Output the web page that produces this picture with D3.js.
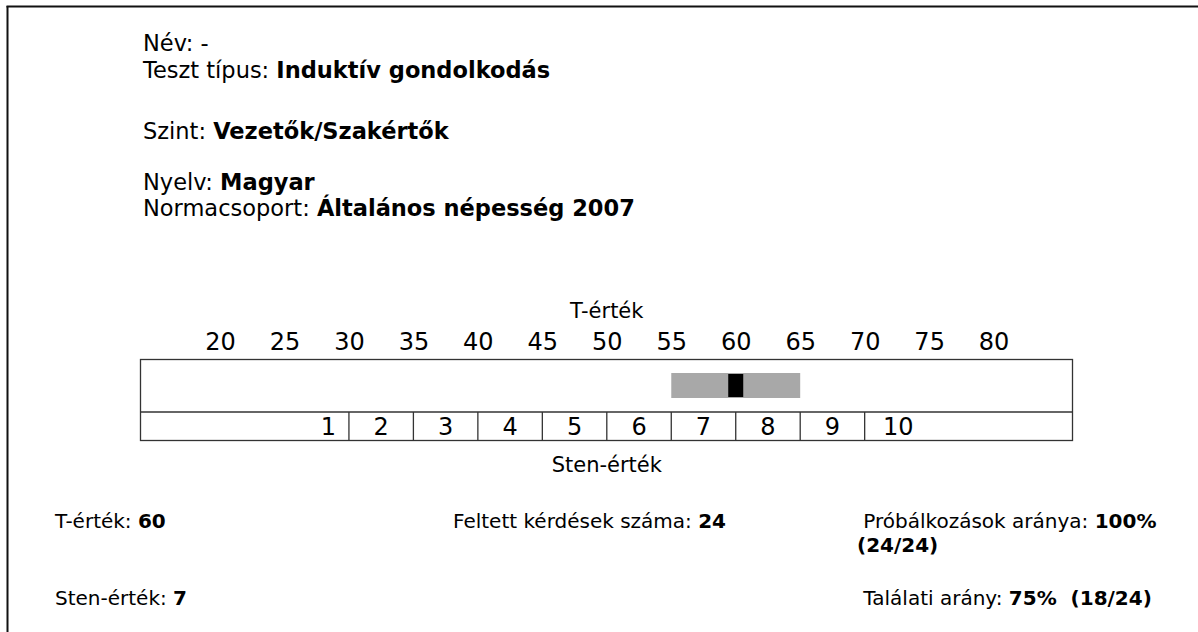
<!DOCTYPE html>
<html><head><meta charset="utf-8">
<script src="https://cdn.jsdelivr.net/npm/d3@7"></script>
<style>html,body{margin:0;padding:0;background:#fff;}svg{display:block;font-family:"DejaVu Sans",Verdana,sans-serif;}</style>
</head><body>
<script>
// ---- data ----
const tTicks = [20,25,30,35,40,45,50,55,60,65,70,75,80];
const stenBounds = [30,35,40,45,50,55,60,65,70];
const stenLabels = ["1","2","3","4","5","6","7","8","9","10"];
const stenLabelT = [28.4,32.5,37.5,42.5,47.5,52.5,57.5,62.5,67.5,72.6];
const tScore = 60;
const tBand = [55,65];
const headerLines = [
  {label:"Név: ", value:"-", bold:false},
  {label:"Teszt típus: ", value:"Induktív gondolkodás", bold:true},
  {label:"Szint: ", value:"Vezetők/Szakértők", bold:true},
  {label:"Nyelv: ", value:"Magyar", bold:true},
  {label:"Normacsoport: ", value:"Általános népesség 2007", bold:true}
];
const headerBaselines = [51,77.5,139,189.5,216];
const footerItems = [
  {label:"T-érték: ", value:"60", x:55, y:528},
  {label:"Sten-érték: ", value:"7", x:55, y:605},
  {label:"Feltett kérdések száma: ", value:"24", x:453, y:528},
  {label:" Próbálkozások aránya: ", value:"100%", x:857, y:528},
  {label:"", value:"(24/24)", x:857, y:552},
  {label:" Találati arány: ", value:"75%  (18/24)", x:857, y:605}
];

const W = 1198, H = 632;
const svg = d3.select("body").append("svg").attr("width",W).attr("height",H);

// page frame (top and left)
svg.append("line").attr("x1",6.5).attr("x2",W).attr("y1",6.5).attr("y2",6.5).attr("stroke","#111").attr("stroke-width",2);
svg.append("line").attr("x1",7.5).attr("x2",7.5).attr("y1",6).attr("y2",H).attr("stroke","#111").attr("stroke-width",2);

// header
headerLines.forEach((d,i)=>{
  const t = svg.append("text").attr("x",143).attr("y",headerBaselines[i]).attr("font-size",22.5).attr("fill","#000").attr("xml:space","preserve");
  t.append("tspan").text(d.label);
  t.append("tspan").attr("font-weight",d.bold?"bold":"normal").text(d.value);
});

// scale
const x = d3.scaleLinear().domain([20,80]).range([220,993.6]);
const boxL = 140.5, boxR = 1072.5, boxT = 359.5, boxM = 412, boxB = 440.5;

svg.append("text").attr("x",x(50)).attr("y",318).attr("text-anchor","middle").attr("font-size",21).text("T-érték");

const axis = d3.axisTop(x).tickValues(tTicks).tickSize(0).tickPadding(0).tickFormat(d3.format("d"));
const ag = svg.append("g").attr("transform",`translate(0,${350})`).call(axis);
ag.select(".domain").remove();
ag.selectAll("text").attr("font-size",24).attr("font-family","DejaVu Sans, Verdana, sans-serif").attr("fill","#000").attr("dy",0);

// band + marker
svg.append("rect").attr("x",x(tBand[0])).attr("width",x(tBand[1])-x(tBand[0])).attr("y",373).attr("height",25).attr("fill","#a8a8a8");
svg.append("rect").attr("x",x(tScore)-7.5).attr("width",15).attr("y",374).attr("height",23).attr("fill","#000");

// box
const lineCol = "#333";
svg.append("rect").attr("x",boxL).attr("y",boxT).attr("width",boxR-boxL).attr("height",boxB-boxT).attr("fill","none").attr("stroke",lineCol).attr("stroke-width",1.3);
svg.append("line").attr("x1",boxL).attr("x2",boxR).attr("y1",boxM).attr("y2",boxM).attr("stroke",lineCol).attr("stroke-width",1.3);
svg.selectAll(".div").data(stenBounds).enter().append("line")
  .attr("x1",d=>x(d)).attr("x2",d=>x(d)).attr("y1",boxM).attr("y2",boxB).attr("stroke",lineCol).attr("stroke-width",1.3);
svg.selectAll(".sl").data(stenLabels).enter().append("text")
  .attr("x",(d,i)=>x(stenLabelT[i])).attr("y",435).attr("text-anchor","middle").attr("font-size",24).text(d=>d);

svg.append("text").attr("x",x(50)).attr("y",472).attr("text-anchor","middle").attr("font-size",21).text("Sten-érték");

// footer
footerItems.forEach(d=>{
  const t = svg.append("text").attr("x",d.x).attr("y",d.y).attr("font-size",20).attr("fill","#000").attr("xml:space","preserve");
  t.append("tspan").text(d.label);
  t.append("tspan").attr("font-weight","bold").text(d.value);
});
</script>
</body></html>
